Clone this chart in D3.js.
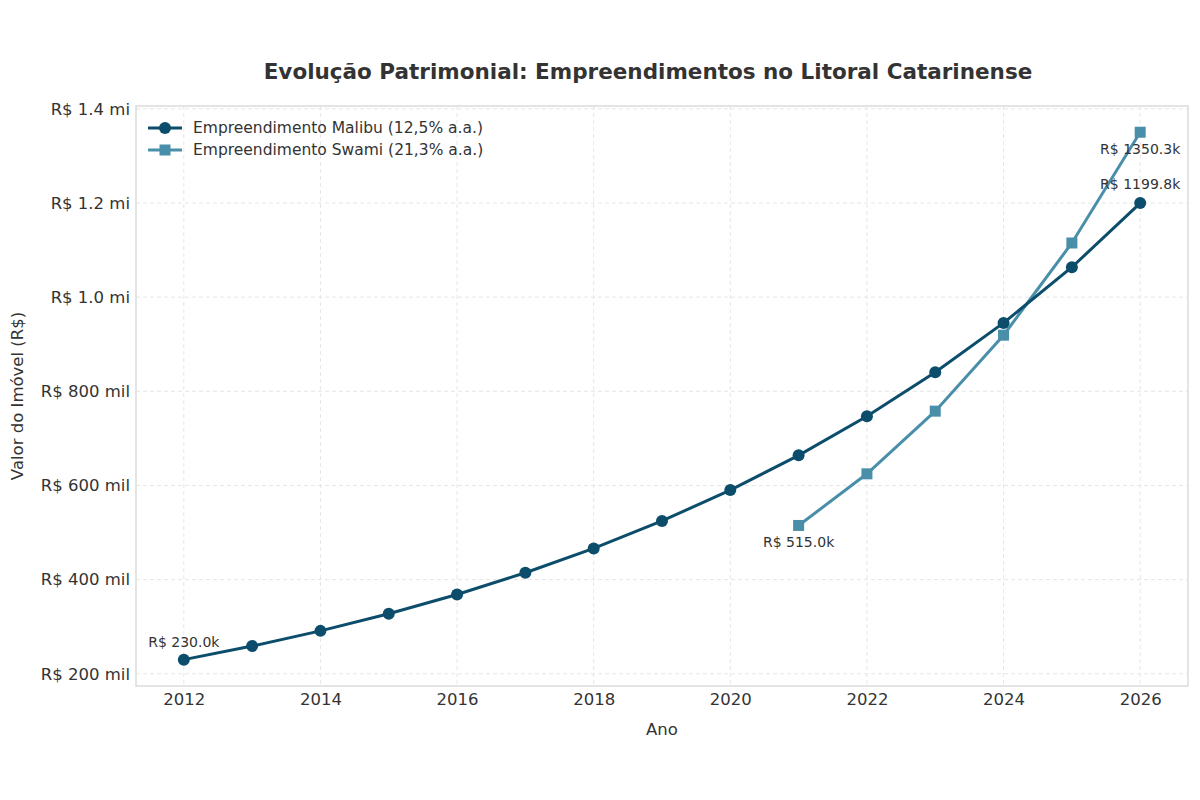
<!DOCTYPE html>
<html><head><meta charset="utf-8">
<script src="https://cdn.jsdelivr.net/npm/d3@7"></script>
<style>body{margin:0;background:#fff;}svg{display:block;font-family:"DejaVu Sans",sans-serif;}</style>
</head><body>
<svg id="c" width="1200" height="800"></svg>
<script>
const malibuYears = [2012,2013,2014,2015,2016,2017,2018,2019,2020,2021,2022,2023,2024,2025,2026];
const malibuValues = [230.0,258.8,291.1,327.5,368.4,414.5,466.3,524.6,590.1,663.9,746.9,840.3,945.3,1063.5,1199.8];
const swamiYears = [2021,2022,2023,2024,2025,2026];
const swamiValues = [515.0,624.7,757.8,919.2,1115.0,1350.3];
const seriesNames = ["Empreendimento Malibu (12,5% a.a.)","Empreendimento Swami (21,3% a.a.)"];
const xTicks = [2012,2014,2016,2018,2020,2022,2024,2026];
const yTicks = [200,400,600,800,1000,1200,1400];
const yTickLabels = ["R$ 200 mil","R$ 400 mil","R$ 600 mil","R$ 800 mil","R$ 1.0 mi","R$ 1.2 mi","R$ 1.4 mi"];

const cMal = "#0b4d6b", cSw = "#4a8fa9";
const svg = d3.select("#c");
const L = 136, R = 1188, T = 106, B = 686;
const x = d3.scaleLinear().domain([2011.3, 2026.7]).range([L, R]);
const y = d3.scaleLinear().domain([174, 1406]).range([B, T]);

// grid
const g = svg.append("g");
g.selectAll(".vg").data(xTicks).join("line")
  .attr("x1", d=>x(d)).attr("x2", d=>x(d)).attr("y1", T).attr("y2", B)
  .attr("stroke", "#e6e6e6").attr("stroke-width", 1).attr("stroke-dasharray", "4,3");
g.selectAll(".hg").data(yTicks).join("line")
  .attr("x1", L).attr("x2", R).attr("y1", d=>y(d)).attr("y2", d=>y(d))
  .attr("stroke", "#e6e6e6").attr("stroke-width", 1).attr("stroke-dasharray", "4,3");

// frame
svg.append("rect").attr("x", L).attr("y", T).attr("width", R-L).attr("height", B-T)
  .attr("fill", "none").attr("stroke", "#dcdcdc").attr("stroke-width", 1.5);

// axes
const xAxis = d3.axisBottom(x).tickValues(xTicks).tickFormat(d3.format("d")).tickSize(0).tickPadding(7);
const xa = svg.append("g").attr("transform", `translate(0,${B})`).call(xAxis);
xa.select(".domain").remove();
xa.selectAll("text").attr("font-size", 16.5).attr("fill", "#333").attr("font-family", "DejaVu Sans");
const yAxis = d3.axisLeft(y).tickValues(yTicks).tickFormat((d,i)=>yTickLabels[i]).tickSize(0).tickPadding(6);
const ya = svg.append("g").attr("transform", `translate(${L},0)`).call(yAxis);
ya.select(".domain").remove();
ya.selectAll("text").attr("font-size", 16.5).attr("fill", "#333").attr("font-family", "DejaVu Sans");

// lines
const line = d3.line().x(d=>x(d[0])).y(d=>y(d[1]));
const mal = malibuYears.map((d,i)=>[d, malibuValues[i]]);
const sw = swamiYears.map((d,i)=>[d, swamiValues[i]]);
svg.append("path").datum(sw).attr("d", line).attr("fill","none").attr("stroke", cSw).attr("stroke-width", 3);
svg.selectAll(".sq").data(sw).join("rect")
  .attr("x", d=>x(d[0])-5.5).attr("y", d=>y(d[1])-5.5).attr("width", 11).attr("height", 11).attr("fill", cSw);
svg.append("path").datum(mal).attr("d", line).attr("fill","none").attr("stroke", cMal).attr("stroke-width", 3);
svg.selectAll(".ci").data(mal).join("circle")
  .attr("cx", d=>x(d[0])).attr("cy", d=>y(d[1])).attr("r", 6).attr("fill", cMal);

// annotations
const ann = [
  [mal[0], -13], [mal[mal.length-1], -14], [sw[0], 22], [sw[sw.length-1], 22]
];
svg.selectAll(".ann").data(ann).join("text")
  .attr("x", d=>x(d[0][0])).attr("y", d=>y(d[0][1]) + d[1])
  .attr("text-anchor", "middle").attr("font-size", 14).attr("fill", "#333")
  .text(d=>"R$ " + d[0][1].toFixed(1) + "k");

// legend
const lg = svg.append("g").attr("transform", `translate(148,128)`);
[[cMal,"c"],[cSw,"s"]].forEach((s,i)=>{
  const yy = i*22;
  lg.append("line").attr("x1",0).attr("x2",34).attr("y1",yy).attr("y2",yy).attr("stroke",s[0]).attr("stroke-width",3);
  if (s[1]==="c") lg.append("circle").attr("cx",17).attr("cy",yy).attr("r",6).attr("fill",s[0]);
  else lg.append("rect").attr("x",11.5).attr("y",yy-5.5).attr("width",11).attr("height",11).attr("fill",s[0]);
  lg.append("text").attr("x",45).attr("y",yy+5).attr("font-size",15.5).attr("fill","#333").text(seriesNames[i]);
});

// titles
svg.append("text").attr("x", 648).attr("y", 79).attr("text-anchor","middle")
  .attr("font-size", 21.5).attr("font-weight","bold").attr("fill","#333")
  .text("Evolução Patrimonial: Empreendimentos no Litoral Catarinense");
svg.append("text").attr("x", (L+R)/2).attr("y", 735).attr("text-anchor","middle")
  .attr("font-size", 16.5).attr("fill","#333").text("Ano");
svg.append("text").attr("transform", `translate(23,${(T+B)/2}) rotate(-90)`).attr("text-anchor","middle")
  .attr("font-size", 16.5).attr("fill","#333").text("Valor do Imóvel (R$)");
</script>
</body></html>
